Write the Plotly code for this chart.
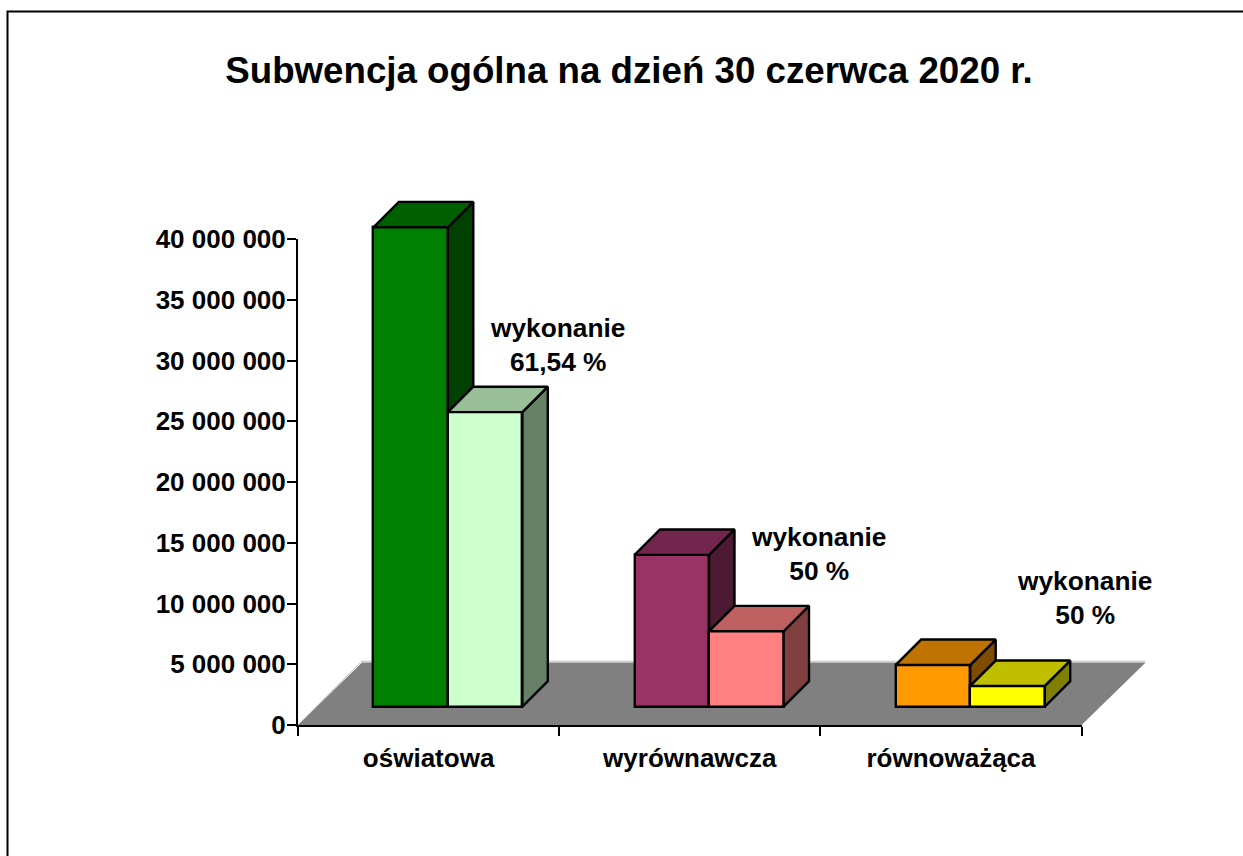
import plotly.graph_objects as go

TITLE = "Subwencja ogólna na dzień 30 czerwca 2020 r."
categories = ["oświatowa", "wyrównawcza", "równoważąca"]
plan = [39450000, 12490000, 3430000]
wykonanie = [24240000, 6200000, 1700000]
notes = ["wykonanie<br>61,54 %", "wykonanie<br>50 %", "wykonanie<br>50 %"]
note_x = [0.4916, 1.4908, 2.511]
note_y = [31280000, 14070000, 10450000]
y_ticks = [0, 5000000, 10000000, 15000000, 20000000, 25000000, 30000000, 35000000, 40000000]
y_labels = ["0", "5 000 000", "10 000 000", "15 000 000", "20 000 000",
            "25 000 000", "30 000 000", "35 000 000", "40 000 000"]

front_plan = ["#008000", "#993366", "#FF9900"]
top_plan = ["#006000", "#73264D", "#BF7300"]
side_plan = ["#004000", "#4D1A33", "#804D00"]
front_wyk = ["#CCFFCC", "#FF8080", "#FFFF00"]
top_wyk = ["#99BF99", "#BF6060", "#BFBF00"]
side_wyk = ["#668066", "#804040", "#808000"]

W, H = 1243, 856
AX_L, AX_R, AX_T, AX_B = 298, 1081.6, 239, 725   # the visible axes
FONT = "Liberation Sans"
LW = 2.4
AXW = 2

n = len(categories)
PX_X = (AX_R - AX_L) / n
PX_Y = (AX_B - AX_T) / 40e6

# The marks' axes cover the whole canvas at the same scale as the visible axes,
# so the 3-D depth may rise above 40 000 000 without being clipped.
mark_x = [-0.5 - AX_L / PX_X, -0.5 + (W - AX_L) / PX_X]
mark_y = [-(H - AX_B) / PX_Y, AX_B / PX_Y]

bar_w = 74.5 / PX_X
dx, dy = 25.4 / PX_X, 25.4 / PX_Y            # bar depth
floor_dx, floor_dy = 64 / PX_X, 62.5 / PX_Y  # floor depth
shift = 19.3 / PX_X                          # bars stand in the middle of the floor
base = 18.4 / PX_Y

fig = go.Figure()


def poly(xs, ys, color):
    fig.add_trace(go.Scatter(
        x=xs + xs[:1], y=ys + ys[:1], mode="lines", fill="toself", fillcolor=color,
        line=dict(color="black", width=LW), hoverinfo="skip", showlegend=False,
    ))


cx = [i + shift for i in range(n)]

fig.add_trace(go.Bar(
    x=[c - bar_w / 2 for c in cx], y=plan, base=base, width=bar_w,
    marker=dict(color=front_plan, line=dict(color="black", width=LW)), showlegend=False,
))
fig.add_trace(go.Bar(
    x=[c + bar_w / 2 for c in cx], y=wykonanie, base=base, width=bar_w,
    marker=dict(color=front_wyk, line=dict(color="black", width=LW)), showlegend=False,
))

for i, c in enumerate(cx):
    x0, xm, x1 = c - bar_w, c, c + bar_w
    p, w = base + plan[i], base + wykonanie[i]
    poly([xm, xm + dx, xm + dx, xm], [p, p + dy, w + dy, w], side_plan[i])
    poly([x0, x0 + dx, xm + dx, xm], [p, p + dy, p + dy, p], top_plan[i])
    poly([x1, x1 + dx, x1 + dx, x1], [w, w + dy, base + dy, base], side_wyk[i])
    poly([xm, xm + dx, x1 + dx, x1], [w, w + dy, w + dy, w], top_wyk[i])

# carries the visible axes; its markers are transparent
fig.add_trace(go.Scatter(
    x=list(range(n)), y=plan, xaxis="x2", yaxis="y2", mode="markers",
    marker=dict(opacity=0, size=1), hoverinfo="skip", showlegend=False,
))

edges = [i - 0.5 for i in range(n + 1)]
e0, e1 = edges[0], edges[-1]
shapes = [
    dict(type="path", layer="below", xref="x", yref="y", fillcolor="#808080",
         line=dict(width=0),
         path=f"M {e0} 0 L {e0 + floor_dx} {floor_dy} L {e1 + floor_dx} {floor_dy} L {e1} 0 Z"),
    dict(type="path", layer="below", xref="x", yref="y", line=dict(color="#C0C0C0", width=1),
         path=f"M {e0 + 0.002} {0.06e6} L {e0 + floor_dx - 0.002} {floor_dy + 0.1e6} "
              f"L {e1 + floor_dx - 0.002} {floor_dy + 0.1e6}"),
    # chart-area frame: only its top and left edges fall inside the page
    dict(type="rect", xref="paper", yref="paper", layer="below",
         x0=7.5 / W, x1=1.2, y0=-0.2, y1=1 - 11.5 / H,
         line=dict(color="black", width=2), fillcolor="rgba(0,0,0,0)"),
]

annotations = [
    dict(text=t, x=x, y=y, xref="x", yref="y", showarrow=False, xanchor="center", yanchor="middle",
         align="center", font=dict(family=FONT, size=26.3, color="black", weight=700))
    for t, x, y in zip(notes, note_x, note_y)
]

fig.update_layout(
    width=W, height=H,
    margin=dict(l=0, r=0, t=0, b=0, pad=0, autoexpand=False),
    paper_bgcolor="white", plot_bgcolor="rgba(0,0,0,0)",
    barmode="overlay", bargap=0, showlegend=False,
    title=dict(text=TITLE, x=629 / W, xanchor="center", xref="container",
               y=1 - 70 / H, yanchor="middle", yref="container",
               font=dict(family=FONT, size=36.7, color="black", weight=700)),
    xaxis=dict(range=mark_x, domain=[0, 1], visible=False, anchor="y"),
    yaxis=dict(range=mark_y, domain=[0, 1], visible=False, anchor="x"),
    xaxis2=dict(range=[e0, e1], domain=[AX_L / W, AX_R / W], anchor="y2",
                tickmode="array", tickvals=list(range(n)), ticktext=categories, ticks="",
                showgrid=False, zeroline=False, showline=True, linecolor="black", linewidth=AXW,
                ticklabelstandoff=9,
                minor=dict(tickmode="array", tickvals=edges, ticks="outside", ticklen=9,
                           tickwidth=AXW, tickcolor="black", showgrid=False),
                tickfont=dict(family=FONT, size=26, color="black", weight=700)),
    yaxis2=dict(range=[0, 40000000], domain=[1 - AX_B / H, 1 - AX_T / H], anchor="x2",
                tickmode="array", tickvals=y_ticks, ticktext=y_labels,
                ticks="outside", ticklen=9, tickwidth=AXW, tickcolor="black", ticklabelstandoff=-4,
                showline=True, linecolor="black", linewidth=AXW, showgrid=False, zeroline=False,
                tickfont=dict(family=FONT, size=26, color="black", weight=700)),
    shapes=shapes, annotations=annotations,
)

fig.write_html("out.html", config={"displayModeBar": False},
               post_script="document.body.style.margin='0';document.documentElement.style.overflow='hidden';")
